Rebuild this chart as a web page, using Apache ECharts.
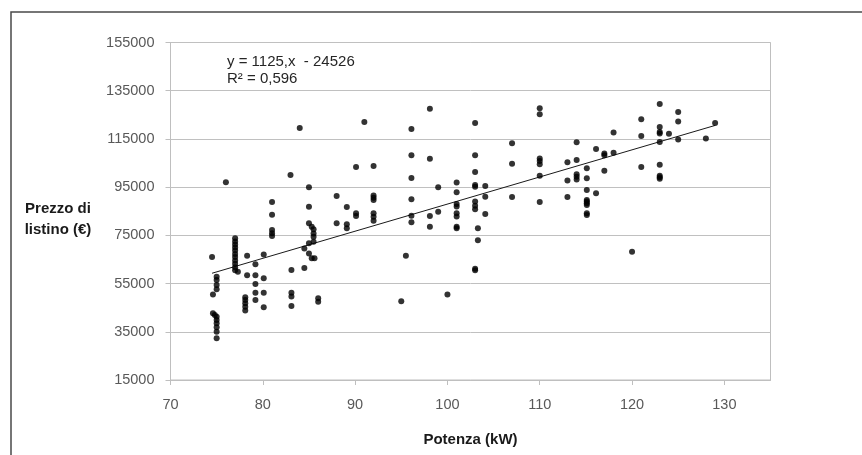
<!DOCTYPE html>
<html>
<head>
<meta charset="utf-8">
<script src="https://cdn.jsdelivr.net/npm/echarts@6/dist/echarts.min.js"></script>
<style>html,body{margin:0;padding:0;background:#fff}#c{width:862px;height:455px}</style>
</head>
<body>
<div id="c"></div>
<script>
// Potenza (kW)
const potenza = [
  74.5, 74.6, 75, 75, 75, 75, 74.6, 74.8, 75, 75, 75, 75, 75, 75,
  76, 77, 77, 77, 77, 77, 77, 77, 77, 77, 77, 77, 77.3,
  78.3, 78.3, 78.1, 78.1, 78.1, 78.1, 78.1,
  79.2, 79.2, 79.2, 79.2, 79.2,
  80.1, 80.1, 80.1, 80.1,
  81, 81, 81, 81, 81,
  83, 83.1, 83.1, 83.1, 83.1,
  84, 84.5, 84.5,
  85, 85, 85, 85.3, 85.5, 85.5, 85.5, 85.5, 85, 85, 85.3, 85.6,
  86, 86,
  88, 88, 89.1, 89.1, 89.1, 90.1, 90.1, 90.1, 91,
  92, 92, 92, 92, 92, 92, 92,
  95, 95.5,
  96.1, 96.1, 96.1, 96.1, 96.1, 96.1,
  98.1, 98.1, 98.1, 98.1,
  99, 99, 100,
  101, 101, 101, 101, 101, 101, 101, 101,
  103, 103, 103, 103, 103, 103, 103, 103, 103.3, 103.3, 103, 103,
  104.1, 104.1, 104.1,
  107, 107, 107,
  110, 110, 110, 110, 110, 110, 110,
  113, 113, 113,
  114, 114, 114, 114, 114,
  115.1, 115.1, 115.1, 115.1, 115.1, 115.1, 115.1, 115.1, 115.1,
  116.1, 116.1,
  117, 117, 117,
  118, 118,
  120,
  121, 121, 121,
  123, 123, 123, 123, 123, 123, 123, 123, 123,
  124,
  125, 125, 125,
  128, 129
];
// Prezzo di listino (€)
const prezzo = [
  66000, 50500, 57800, 56500, 54400, 52600, 42700, 42000, 41200, 39900, 38500, 36900, 35000, 32300,
  97000, 73800, 72500, 71200, 70000, 68700, 67300, 66000, 64600, 63200, 61800, 60500, 59900,
  66500, 58500, 49300, 48200, 46800, 45400, 43800,
  63000, 58500, 54800, 51200, 48200,
  67100, 57200, 51200, 45200,
  88800, 83500, 77200, 75900, 74700,
  100000, 60600, 51200, 49600, 45700,
  119500, 69600, 61500,
  95000, 86900, 80000, 78600, 77500, 75800, 74400, 72400, 71700, 67500, 65500, 65500,
  48900, 47500,
  91300, 80000, 86800, 79600, 77900, 103400, 84200, 83000, 122000,
  103800, 91500, 90600, 89700, 84200, 82700, 81100,
  47700, 66500,
  119100, 108200, 98800, 90000, 83100, 80400,
  127500, 106800, 83000, 78600,
  95000, 84800, 50500,
  96900, 92900, 88000, 87000, 84200, 82800, 78600, 77900,
  121600, 108200, 101300, 95900, 95200, 89000, 87300, 85800, 77900, 73000, 61200, 60500,
  95500, 91000, 83900,
  113200, 104700, 90900,
  127700, 125200, 106900, 105800, 104500, 99700, 88800,
  105300, 97800, 90900,
  113600, 106300, 100400, 99300, 98200,
  102800, 98700, 93800, 89700, 89000, 88300, 87600, 84200, 83400,
  110800, 92500,
  109000, 108200, 101800,
  117700, 109300,
  68200,
  123200, 116200, 103400,
  129500, 120000, 117900, 117300, 113700, 104300, 99700, 99100, 98500,
  117200,
  126200, 122200, 114800,
  115200, 121600
];
// Linear trend line as printed on the chart
const trendSlope = 1125;
const trendIntercept = -24526;
const trendX = [74.5, 129];
const equationLabel = "y = 1125,x  - 24526";
const r2Label = "R² = 0,596";
const xTicks = [70, 80, 90, 100, 110, 120, 130];
const yTicks = [15000, 35000, 55000, 75000, 95000, 115000, 135000, 155000];

const points = potenza.map((x, i) => [x, prezzo[i]]);
const trend = trendX.map(x => [x, trendSlope * x + trendIntercept]);

const chart = echarts.init(document.getElementById('c'), null, {renderer: 'canvas'});
const labelFont = 'Liberation Sans, Arial, sans-serif';
const titleFont = '"Liberation Sans", Arial, sans-serif';
chart.setOption({
  animation: false,
  backgroundColor: '#fff',
  grid: {left: 170.5, top: 42.5, right: 91.5, bottom: 75, show: true, borderColor: '#bfbfbf', borderWidth: 1, containLabel: false},
  xAxis: {
    type: 'value', min: 70, max: 135, interval: 10,
    axisLine: {show: true, lineStyle: {color: '#bfbfbf'}},
    axisTick: {show: true, length: 5, customValues: xTicks, lineStyle: {color: '#bfbfbf'}},
    splitLine: {show: false},
    axisLabel: {
      color: '#595959', fontSize: 14.5, fontFamily: labelFont, margin: 17,
      customValues: xTicks,
      formatter: v => xTicks.includes(v) ? String(v) : ''
    }
  },
  yAxis: {
    type: 'value', min: 15000, max: 155000, interval: 20000,
    axisLine: {show: true, lineStyle: {color: '#bfbfbf'}},
    axisTick: {show: true, length: 5, lineStyle: {color: '#bfbfbf'}},
    splitLine: {show: true, lineStyle: {color: '#c0c0c0', width: 1}},
    axisLabel: {
      color: '#595959', fontSize: 14.5, fontFamily: labelFont, margin: 16,
      formatter: v => yTicks.includes(v) ? String(v) : ''
    }
  },
  series: [
    {
      type: 'scatter', data: points, symbol: 'circle', symbolSize: 6,
      itemStyle: {color: '#000'}, z: 3
    },
    {
      type: 'line', data: trend, showSymbol: false, symbol: 'none',
      lineStyle: {color: '#1a1a1a', width: 1}, z: 2
    }
  ],
  graphic: [
    {type: 'rect', shape: {x: 11, y: 12, width: 1000, height: 1000}, style: {fill: 'none', stroke: '#4a4a4a', lineWidth: 1.5}, silent: true},
    {type: 'text', left: 227, top: 54, style: {text: equationLabel, fill: '#262626', font: '15px ' + labelFont}},
    {type: 'text', left: 227, top: 71, style: {text: r2Label, fill: '#262626', font: '15px ' + labelFont}},
    {type: 'text', x: 58, y: 209, style: {text: 'Prezzo di', fill: '#1a1a1a', font: 'bold 15px ' + titleFont, align: 'center', verticalAlign: 'middle'}},
    {type: 'text', x: 58, y: 230, style: {text: 'listino (€)', fill: '#1a1a1a', font: 'bold 15px ' + titleFont, align: 'center', verticalAlign: 'middle'}},
    {type: 'text', x: 470.5, y: 440, style: {text: 'Potenza (kW)', fill: '#1a1a1a', font: 'bold 15px ' + titleFont, align: 'center', verticalAlign: 'middle'}}
  ]
});
</script>
</body>
</html>
